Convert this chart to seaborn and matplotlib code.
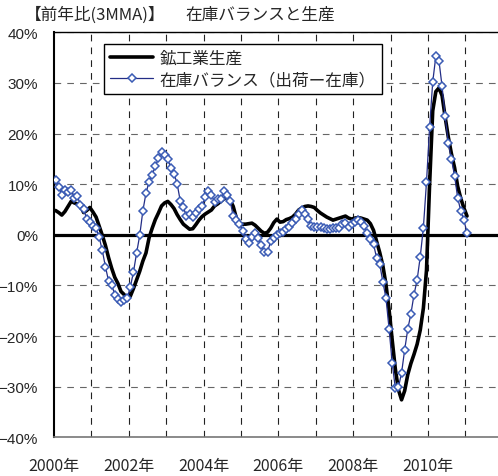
import pandas as pd
import seaborn as sns
import matplotlib
matplotlib.use("Agg")
import matplotlib.pyplot as plt

# 鉱工業生産 前年比(3MMA) 2000年1月〜2011年1月
production = [
    4.8, 4.4, 3.9, 4.6, 5.6, 6.6, 6.3, 6.1, 5.8, 4.4,
    4.8, 5.4, 4.5, 3.5, 1.7, -0.1, -2.1, -4.5, -6.6, -8.4,
    -9.6, -11.2, -11.8, -12.9, -12.1, -10.6, -8.9, -7.2, -5.2, -3.6,
    -0.6, 1.3, 3.0, 4.3, 5.7, 6.3, 6.6, 6.0, 5.2, 4.0,
    3.0, 2.1, 1.6, 1.1, 1.2, 2.0, 2.9, 3.6, 4.1, 4.5,
    4.9, 5.7, 6.1, 6.6, 7.1, 7.4, 6.9, 5.6, 3.3, 2.1,
    2.1, 2.1, 2.2, 2.3, 1.9, 1.3, 0.7, 0.3, 0.5, 1.3,
    2.4, 3.1, 2.5, 2.6, 3.0, 3.2, 3.5, 4.1, 4.9, 5.3,
    5.6, 5.7, 5.6, 5.4, 4.8, 4.3, 3.9, 3.5, 3.2, 2.9,
    3.1, 3.3, 3.5, 3.7, 3.3, 3.1, 3.3, 3.4, 3.3, 3.1,
    2.9, 2.2, 0.9, -1.3, -3.5, -6.1, -9.8, -14.8, -20.8, -26.5,
    -30.6, -32.6, -30.8, -27.6, -25.4, -23.6, -21.6, -18.8, -14.5, -7.0,
    10.0, 24.5, 28.3, 29.0, 27.5, 23.2, 19.3, 16.0, 13.3, 9.6,
    7.2, 5.3, 3.7,
]

# 在庫バランス(出荷−在庫)
inventory_balance = [
    10.9, 9.5, 7.9, 8.9, 8.4, 8.9, 7.3, 7.6, 5.9, 5.1,
    3.1, 2.6, 1.7, 1.3, -0.5, -3.1, -6.3, -9.1, -9.9, -11.8,
    -12.6, -13.3, -12.8, -12.5, -10.3, -7.3, -3.6, -0.1, 4.7, 8.2,
    10.5, 11.9, 13.5, 15.1, 16.3, 15.7, 14.9, 13.2, 12.1, 10.1,
    6.7, 5.4, 3.7, 4.1, 3.5, 4.4, 5.1, 5.7, 7.4, 8.7,
    7.9, 6.5, 7.0, 7.0, 8.7, 7.9, 6.7, 3.7, 2.9, 2.2,
    0.7, -0.9, -1.6, -0.5, 0.4, -0.6, -2.0, -3.3, -3.4, -1.3,
    -0.7, -0.1, 0.3, 0.6, 1.1, 1.5, 2.4, 3.1, 4.1, 4.9,
    4.1, 3.1, 1.7, 1.5, 1.5, 1.5, 1.3, 1.2, 1.1, 1.3,
    1.3, 1.4, 2.1, 2.4, 1.6, 2.1, 2.6, 3.0, 2.6, 1.7,
    0.3, -0.9, -1.8, -4.6, -5.8, -9.3, -12.5, -18.6, -25.3, -30.3,
    -30.1, -27.3, -22.7, -18.6, -15.6, -11.8, -8.9, -4.3, 1.4, 10.4,
    21.3, 30.2, 35.3, 34.4, 29.3, 23.4, 18.2, 14.9, 11.7, 7.3,
    4.7, 2.9, 0.4,
]

year_ticks = list(range(2000, 2012))
year_labels = ["2000年", "", "2002年", "", "2004年", "", "2006年", "",
               "2008年", "", "2010年", ""]
pct_ticks = [-40, -30, -20, -10, 0, 10, 20, 30, 40]
pct_labels = ["\u221240%", "\u221230%", "\u221220%", "\u221210%", "0%",
              "10%", "20%", "30%", "40%"]

months = pd.date_range("2000-01-01", periods=len(production), freq="MS")
df = pd.DataFrame({
    "t": months.year + (months.month - 0.5) / 12,
    "production": production,
    "balance": inventory_balance,
})

sns.set_style("white")
plt.rcParams["font.family"] = ["Noto Sans CJK JP", "DejaVu Sans"]

fig = plt.figure(figsize=(4.98, 4.77), dpi=100)
ax = fig.add_axes([54 / 498, 1 - 438.3 / 477, 1 - 54 / 498, (438.3 - 33.3) / 477])

# grid
dash = (0, (6, 5.5))
for yv in pct_ticks:
    if yv != 0:
        ax.axhline(yv, color="#666666", lw=0.8, ls=dash, zorder=1)
for xv in year_ticks[1:]:
    ax.axvline(xv, color="#222222", lw=0.8, ls=dash, zorder=1)
ax.axhline(0, color="black", lw=2.3, zorder=1.5)

sns.lineplot(data=df, x="t", y="production", ax=ax, color="black", lw=2.6,
             label="鉱工業生産", zorder=3)
sns.lineplot(data=df, x="t", y="balance", ax=ax, color="#232d86", lw=0.9,
             marker="D", markersize=4.2, markerfacecolor="white",
             markeredgecolor="#3b5cb5", markeredgewidth=1.1,
             label="在庫バランス（出荷ー在庫）", zorder=4)

ax.set_xlim(2000, 2011.87)
ax.set_ylim(-40, 40)
ax.set_xticks(year_ticks)
ax.set_xticklabels(year_labels, fontsize=11.5)
ax.set_yticks(pct_ticks)
ax.set_yticklabels(pct_labels, fontsize=11, family="Liberation Sans")
ax.tick_params(axis="x", length=0, pad=14)
ax.tick_params(axis="y", direction="in", length=5, width=1.2, color="black", pad=11.5)
ax.set_xlabel("")
ax.set_ylabel("")

ax.spines["right"].set_visible(False)
ax.spines["left"].set_color("black")
ax.spines["left"].set_linewidth(1.5)
ax.spines["top"].set_color("black")
ax.spines["top"].set_linewidth(1.0)
ax.spines["bottom"].set_color("#777777")
ax.spines["bottom"].set_linewidth(1.2)

leg = ax.legend(loc="upper left", bbox_to_anchor=(50 / 444, (438.3 - 45) / 405),
                borderaxespad=0, fontsize=12, frameon=True, fancybox=False,
                framealpha=1, edgecolor="black", handlelength=2.6,
                labelspacing=0.25, borderpad=0.35, handletextpad=0.4, numpoints=1)
leg.get_frame().set_linewidth(1.0)

fig.text(25 / 498, 1 - 15 / 477, "【前年比(3MMA)】", fontsize=12, va="center", ha="left")
fig.text(185 / 498, 1 - 15 / 477, "在庫バランスと生産", fontsize=12, va="center", ha="left")

fig.savefig("out.png", dpi=100)
